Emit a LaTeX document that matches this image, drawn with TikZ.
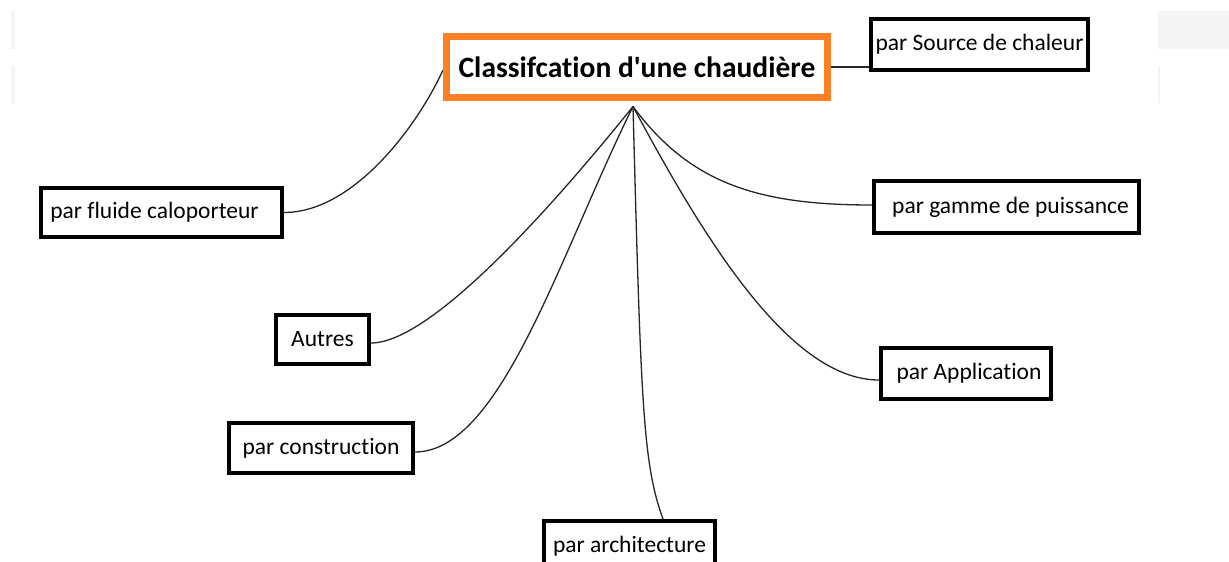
\documentclass[tikz,border=0pt]{standalone}
\usepackage{fontspec}
\setmainfont{Carlito}[Ligatures={TeXOff,NoCommon}]
\usetikzlibrary{backgrounds}
\definecolor{paintorange}{HTML}{FF7F27}
\definecolor{faint}{HTML}{F4F4F4}
\begin{document}
\begin{tikzpicture}[x=1pt,y=-1pt,
  box/.style={draw=black, line width=4pt, fill=white, rectangle, inner sep=0pt,
    font=\fontsize{23.5}{28}\selectfont},
  titlebox/.style={draw=paintorange, line width=7pt, fill=white, rectangle, inner sep=0pt,
    font=\bfseries\fontsize{29.5}{34}\selectfont},
  link/.style={line width=1.3pt, draw=black!85},
  faintmark/.style={fill=faint, draw=none}]
\useasboundingbox (0,0) rectangle (1229,562);
% faint background marks
\fill[faintmark] (11,11) rectangle (15,49);
\fill[faintmark] (11,66) rectangle (15,104);
\fill[faintmark] (1158,11) rectangle (1229,49);
\fill[faintmark] (1158,66) rectangle (1160,103);
% nodes
\node[titlebox, minimum width=381pt, minimum height=61pt] (title) at (637,67) {Classifcation d'une chaudière};
\node[box, minimum width=217pt, minimum height=51pt] (source) at (979.5,44.5) {par Source de chaleur};
\node[box, minimum width=265pt, minimum height=52pt] (gamme) at (1006.5,207) {\hspace*{8pt}par gamme de puissance};
\node[box, minimum width=170pt, minimum height=51pt] (appli) at (966,373.5) {\hspace*{6pt}par Application};
\node[box, minimum width=241pt, minimum height=49pt] (fluide) at (161.5,212.5) {par fluide caloporteur\hspace*{14pt}};
\node[box, minimum width=93pt, minimum height=49pt] (autres) at (322.5,339.5) {Autres};
\node[box, minimum width=184pt, minimum height=50pt] (constr) at (321,448) {par construction};
\node[box, minimum width=171pt, minimum height=51pt] (archi) at (629.5,546.5) {par architecture};
\coordinate (hub) at ([xshift=-4pt,yshift=-5.5pt]title.south);
% connectors
\begin{scope}[on background layer]
\draw[link] (title.east) -- (title.east -| source.west);
\draw[link] (fluide.east) .. controls +(70,0) and +(-25,55) .. ([yshift=-3pt]title.west);
\draw[link] (hub) .. controls +(-78,97) and +(61,0) .. ([yshift=-3.5pt]autres.east);
\draw[link] (hub) .. controls +(-73,147) and +(86,0) .. ([yshift=-4pt]constr.east);
\draw[link] (hub) .. controls +(8,300) and +(-20,-55) .. ([xshift=33.5pt]archi.north);
\draw[link] (hub) .. controls +(57,77) and +(-114,0) .. ([yshift=2pt]gamme.west);
\draw[link] (hub) .. controls +(70,130) and +(-90,0) .. ([yshift=-6.5pt]appli.west);
\end{scope}
\end{tikzpicture}
\end{document}
